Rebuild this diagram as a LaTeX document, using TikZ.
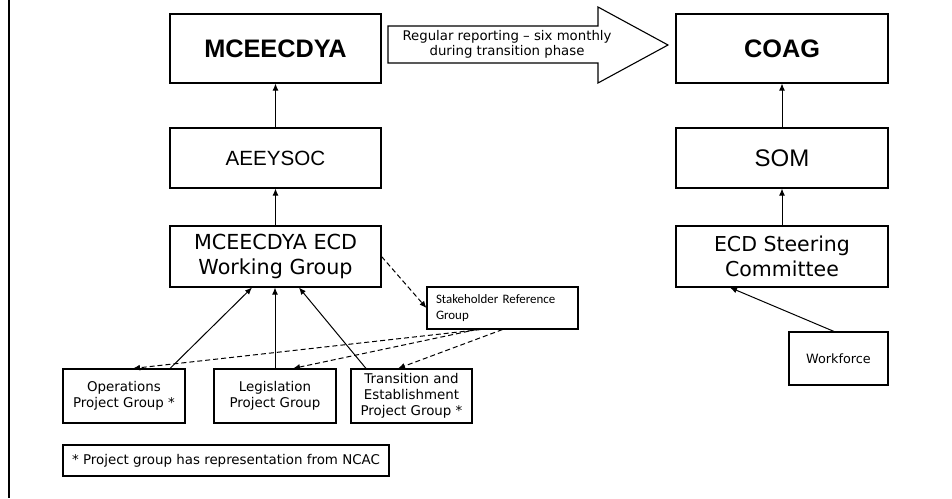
\documentclass[tikz,border=0pt]{standalone}
\usepackage{fontspec}
\setmainfont{DejaVu Sans}
\newfontfamily\arial{Liberation Sans}
\newfontfamily\calib{Carlito}
\usetikzlibrary{arrows,arrows.meta,shapes}
\tikzstyle{brick} = [rectangle, line width = 1.1pt, text centered, align = center, draw = black, inner sep = 0pt]
\tikzstyle{big} = [brick, minimum width = 211pt, font = \fontsize{20.7}{25}\selectfont]
\tikzstyle{small} = [brick, minimum width = 122pt, minimum height = 54pt, font = \fontsize{13.4}{16}\selectfont]
\tikzstyle{link} = [-{Latex[length=7pt,width=6pt]}, line width = 1pt]
\tikzstyle{dlink} = [link, dash pattern = on 5pt off 3pt]

\begin{document}
\begin{tikzpicture}[x = 1pt, y = -1pt]
        \useasboundingbox (0,0) rectangle (952,498);
        \draw [line width = 2pt] (9,0) -- (9,498);
        % left column
        \node (mce)   [big, minimum height = 69pt, font = \arial\fontsize{25.3}{29}\selectfont\bfseries] at (275.5,48.5) {MCEECDYA};
        \node (aee)   [big, minimum height = 60pt, font = \arial\fontsize{20.6}{25}\selectfont] at (275.5,158) {AEEYSOC};
        \node (wg)    [big, minimum height = 61pt] at (275.5,256.5) {MCEECDYA ECD\\Working Group};
        \node (ops)   [small] at (124,396) {Operations\\Project Group *};
        \node (leg)   [small] at (275,396) {Legislation\\Project Group};
        \node (trans) [small, minimum width = 121pt] at (411.5,396) {Transition and\\Establishment\\Project Group *};
        \node (stake) [brick, minimum width = 151pt, minimum height = 42pt, text width = 133pt, align = left, font = \calib\fontsize{12.9}{16}\selectfont] at (502.5,308) {Stakeholder Reference\\Group};
        \node (note)  [brick, minimum width = 326pt, minimum height = 31pt, font = \fontsize{13.4}{16}\selectfont] at (226,460.5) {* Project group has representation from NCAC};
        % right column
        \node (coag)  [big, minimum width = 212pt, minimum height = 69pt, font = \arial\fontsize{25.3}{29}\selectfont\bfseries] at (782,48.5) {COAG};
        \node (som)   [big, minimum width = 212pt, minimum height = 60pt, font = \arial\fontsize{24}{28}\selectfont] at (782,158) {SOM};
        \node (esc)   [big, minimum width = 212pt, minimum height = 61pt, font = \fontsize{20.5}{25}\selectfont] at (782,256.5) {ECD Steering\\Committee};
        \node (work)  [brick, minimum width = 99pt, minimum height = 53pt, font = \fontsize{12.8}{15}\selectfont] at (838.5,358.5) {Workforce};
        % reporting arrow
        \draw [line width = 1.1pt] (388,26) -- (598,26) -- (598,7) -- (668,45) -- (598,83) -- (598,63) -- (388,63) -- cycle;
        \node (rep) [align = center, font = \fontsize{13.3}{15.5}\selectfont] at (507,44.5) {Regular reporting -- six monthly\\during transition phase};
        % connectors
        \draw [link] (aee) -- (mce);
        \draw [link] (wg) -- (aee);
        \draw [link] (som) -- (coag);
        \draw [link] (esc) -- (som);
        \draw [link] ([xshift=-4.5pt]work.north) -- ([xshift=-52pt]esc.south);
        \draw [link] ([xshift=46pt]ops.north) -- ([xshift=-23.5pt]wg.south);
        \draw [link] (leg.north) -- (leg.north |- wg.south);
        \draw [link] ([xshift=-45.5pt]trans.north) -- ([xshift=23.5pt]wg.south);
        \draw [dlink] (wg.east) -- (stake.west);
        \draw [dlink] ([xshift=-22pt]stake.south) -- ([xshift=9pt]ops.north);
        \draw [dlink] ([xshift=-26pt]stake.south) -- ([xshift=18pt]leg.north);
        \draw [dlink] (stake.south) -- ([xshift=-13.5pt]trans.north);
    \end{tikzpicture}
\end{document}
